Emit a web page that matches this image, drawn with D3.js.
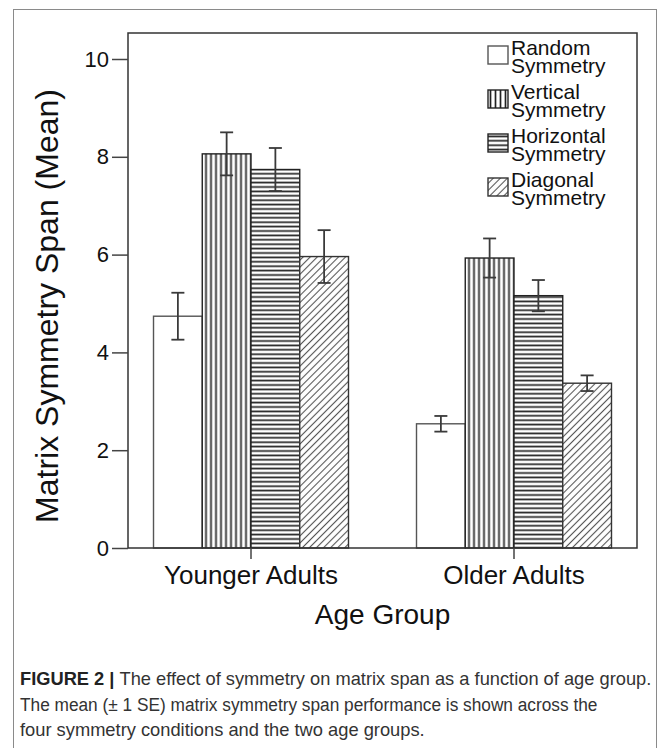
<!DOCTYPE html>
<html>
<head>
<meta charset="utf-8">
<script src="https://cdn.jsdelivr.net/npm/d3@7"></script>
<style>
  html, body { margin: 0; padding: 0; background: #fff; }
  svg { display: block; }
  text { font-family: "Liberation Sans", Arial, sans-serif; }
</style>
</head>
<body>
<svg id="chart" width="667" height="748"></svg>
<script>
// ---- data ----
const groups = ["Younger Adults", "Older Adults"];
const conditions = ["Random Symmetry", "Vertical Symmetry", "Horizontal Symmetry", "Diagonal Symmetry"];
const youngerMeans = [4.74, 8.06, 7.74, 5.96];
const youngerSE    = [0.48, 0.44, 0.44, 0.54];
const olderMeans   = [2.54, 5.93, 5.16, 3.37];
const olderSE      = [0.16, 0.40, 0.32, 0.16];
const yTicks = [0, 2, 4, 6, 8, 10];
const xTitle = "Age Group";
const yTitle = "Matrix Symmetry Span (Mean)";
const captionLines = [
  [{b: true, t: "FIGURE 2 | "}, {b: false, t: "The effect of symmetry on matrix span as a function of age group."}],
  [{b: false, t: "The mean (\u00B1 1 SE) matrix symmetry span performance is shown across the"}],
  [{b: false, t: "four symmetry conditions and the two age groups."}]
];

const table = groups.map((g, gi) => ({
  group: g,
  values: conditions.map((c, ci) => ({
    group: g, cond: c,
    mean: gi === 0 ? youngerMeans[ci] : olderMeans[ci],
    se: gi === 0 ? youngerSE[ci] : olderSE[ci]
  }))
}));

// ---- layout ----
const svg = d3.select("#chart");
const L = 128, R = 637, T = 33, B = 548;

// outer figure frame
svg.append("rect").attr("x", 13.5).attr("y", 9.5).attr("width", 643).attr("height", 800)
  .attr("fill", "none").attr("stroke", "#8a8a8a").attr("stroke-width", 1);

// patterns
const defs = svg.append("defs");
const pv = defs.append("pattern").attr("id", "pv").attr("patternUnits", "userSpaceOnUse")
  .attr("width", 5).attr("height", 10);
pv.append("rect").attr("width", 5).attr("height", 10).attr("fill", "#fff");
pv.append("line").attr("x1", 2.5).attr("x2", 2.5).attr("y1", 0).attr("y2", 10)
  .attr("stroke", "#222").attr("stroke-width", 1.7);

const ph = defs.append("pattern").attr("id", "ph").attr("patternUnits", "userSpaceOnUse")
  .attr("width", 10).attr("height", 4.4);
ph.append("rect").attr("width", 10).attr("height", 4.4).attr("fill", "#fff");
ph.append("line").attr("x1", 0).attr("x2", 10).attr("y1", 2.2).attr("y2", 2.2)
  .attr("stroke", "#222").attr("stroke-width", 1.7);

const pd = defs.append("pattern").attr("id", "pd").attr("patternUnits", "userSpaceOnUse")
  .attr("width", 5).attr("height", 5).attr("patternTransform", "rotate(45)");
pd.append("rect").attr("width", 5).attr("height", 5).attr("fill", "#fff");
pd.append("line").attr("x1", 2.5).attr("x2", 2.5).attr("y1", 0).attr("y2", 5)
  .attr("stroke", "#555").attr("stroke-width", 1.1);

const fills = ["#fff", "url(#pv)", "url(#ph)", "url(#pd)"];
const strokes = ["#555", "#222", "#222", "#333"];
const fillScale = d3.scaleOrdinal().domain(conditions).range(fills);
const strokeScale = d3.scaleOrdinal().domain(conditions).range(strokes);

// scales
const y = d3.scaleLinear().domain([0, 10]).range([B, 59]);
const x0 = d3.scaleBand().domain(groups).range([L, R]).paddingInner(0.2586).paddingOuter(0.097);
const x1 = d3.scaleBand().domain(conditions).range([0, x0.bandwidth()]).padding(0);

// bars
const gBars = svg.append("g");
const gg = gBars.selectAll("g.grp").data(table).join("g")
  .attr("class", "grp").attr("transform", d => `translate(${x0(d.group)},0)`);
gg.selectAll("rect").data(d => d.values).join("rect")
  .attr("x", d => x1(d.cond))
  .attr("y", d => y(d.mean))
  .attr("width", x1.bandwidth())
  .attr("height", d => y(0) - y(d.mean))
  .attr("fill", d => fillScale(d.cond))
  .attr("stroke", d => strokeScale(d.cond))
  .attr("stroke-width", 1.4);

// error bars
const eb = gg.selectAll("g.err").data(d => d.values).join("g").attr("class", "err")
  .attr("stroke", "#3a3a3a").attr("stroke-width", 1.8);
eb.append("line")
  .attr("x1", d => x1(d.cond) + x1.bandwidth() / 2)
  .attr("x2", d => x1(d.cond) + x1.bandwidth() / 2)
  .attr("y1", d => y(d.mean + d.se)).attr("y2", d => y(d.mean - d.se));
eb.append("line")
  .attr("x1", d => x1(d.cond) + x1.bandwidth() / 2 - 6.5)
  .attr("x2", d => x1(d.cond) + x1.bandwidth() / 2 + 6.5)
  .attr("y1", d => y(d.mean + d.se)).attr("y2", d => y(d.mean + d.se));
eb.append("line")
  .attr("x1", d => x1(d.cond) + x1.bandwidth() / 2 - 6.5)
  .attr("x2", d => x1(d.cond) + x1.bandwidth() / 2 + 6.5)
  .attr("y1", d => y(d.mean - d.se)).attr("y2", d => y(d.mean - d.se));

// plot frame
svg.append("path")
  .attr("d", `M${L},${B}V${T}H${R}V${B}H${L}`)
  .attr("fill", "none").attr("stroke", "#333").attr("stroke-width", 1.5);

// axes
const yAxis = svg.append("g").attr("transform", `translate(${L},0)`)
  .call(d3.axisLeft(y).tickValues(yTicks).tickSize(16).tickSizeOuter(0).tickPadding(3));
yAxis.select(".domain").remove();
yAxis.selectAll(".tick line").attr("stroke", "#444").attr("stroke-width", 1.5);
yAxis.selectAll(".tick text").attr("font-size", 22).attr("fill", "#111")
  .attr("font-family", "Liberation Sans, Arial, sans-serif");

const xAxis = svg.append("g").attr("transform", `translate(0,${B})`)
  .call(d3.axisBottom(x0).tickSize(11).tickSizeOuter(0).tickPadding(7));
xAxis.select(".domain").remove();
xAxis.selectAll(".tick line").attr("stroke", "#444").attr("stroke-width", 1.5);
xAxis.selectAll(".tick text").attr("font-size", 26).attr("fill", "#111")
  .attr("font-family", "Liberation Sans, Arial, sans-serif");

// axis titles
svg.append("text").attr("x", (L + R) / 2).attr("y", 624).attr("text-anchor", "middle")
  .attr("font-size", 28).attr("fill", "#111").text(xTitle);
svg.append("text").attr("transform", `translate(58,306) rotate(-90)`)
  .attr("text-anchor", "middle").attr("font-size", 32).attr("fill", "#111").text(yTitle);

// legend
const leg = svg.append("g").attr("transform", "translate(488,55)");
const li = leg.selectAll("g").data(conditions).join("g")
  .attr("transform", (d, i) => `translate(0,${i * 44})`);
li.append("rect").attr("x", 0).attr("y", -9).attr("width", 20).attr("height", 18)
  .attr("fill", d => fillScale(d)).attr("stroke", d => strokeScale(d)).attr("stroke-width", 1.4);
li.append("text").attr("x", 23).attr("y", 0).attr("font-size", 21).attr("fill", "#111")
  .text(d => d.split(" ")[0]);
li.append("text").attr("x", 23).attr("y", 18).attr("font-size", 21).attr("fill", "#111")
  .text(d => d.split(" ")[1]);

// caption
const capTargets = [632, 578, 405];
const capBase = [685, 711, 736];
captionLines.forEach((line, i) => {
  const t = svg.append("text").attr("x", 0).attr("y", 0).attr("font-size", 18).attr("fill", "#333")
    .attr("font-family", "Liberation Sans Narrow, Liberation Sans, Arial, sans-serif");
  line.forEach(seg => t.append("tspan").attr("font-weight", seg.b ? "bold" : "normal")
    .attr("fill", seg.b ? "#222" : "#333").text(seg.t));
  const w = t.node().getComputedTextLength();
  const s = capTargets[i] / w;
  t.attr("transform", `translate(20,${capBase[i]}) scale(${s},1)`);
});
</script>
</body>
</html>
